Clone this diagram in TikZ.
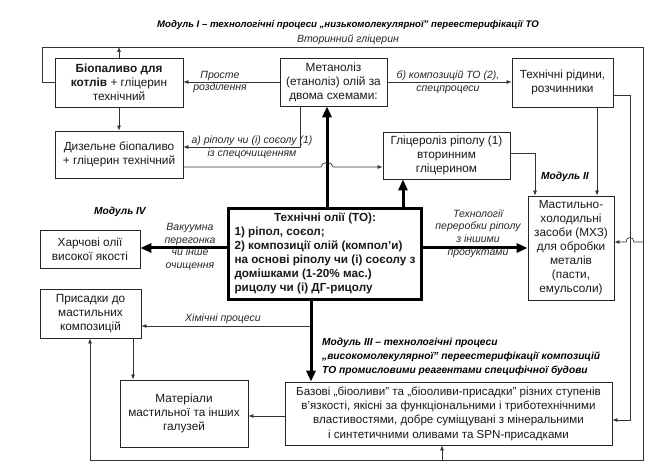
\documentclass[tikz,border=0pt]{standalone}
\usepackage{fontspec}
\setmainfont{Liberation Sans}
\usetikzlibrary{arrows.meta}
\begin{document}
\begin{tikzpicture}[x=1pt,y=-1pt,
  box/.style={draw=black!85, line width=0.8pt, fill=white, align=center, inner sep=1pt, font=\fontsize{11.8}{14}\selectfont, text=black!90},
  lbl/.style={font=\fontsize{10.5}{12.8}\selectfont\itshape, align=center, text=black!85, inner sep=0pt},
  modl/.style={font=\fontsize{10.2}{14}\selectfont\bfseries\itshape, align=left, text=black, inner sep=0pt},
  ln/.style={draw=black!80, line width=0.7pt},
  arr/.style={ln, -{Latex[length=5pt,width=4pt]}},
  thk/.style={draw=black, line width=3pt, -{Triangle[length=11pt,width=9pt]}},
]
\useasboundingbox (0,0) rectangle (665,476);

% boxes
\node[box, minimum width=128pt, minimum height=49pt] (bio) at (119,82.5) {\textbf{Біопаливо для}\\\textbf{котлів} + гліцерин\\технічний};
\node[box, minimum width=107pt, minimum height=48pt] (met) at (333.5,82) {Метаноліз\\(етаноліз) олій за\\двома схемами:};
\node[box, minimum width=101pt, minimum height=49pt] (tech) at (562.5,82.5) {Технічні рідини,\\розчинники};
\node[box, minimum width=128pt, minimum height=47pt] (diz) at (119,154.5) {Дизельне біопаливо\\+ гліцерин технічний};
\node[box, minimum width=127pt, minimum height=47pt] (glic) at (446.5,155.5) {Гліцероліз ріполу (1)\\вторинним\\гліцерином};
\node[box, minimum width=100pt, minimum height=38pt] (harch) at (90,249) {Харчові олії\\високої якості};
\node[box, minimum width=86pt, minimum height=104pt, inner sep=0pt] (mxz) at (571,248) {Мастильно-\\холодильні\\засоби (МХЗ)\\для обробки\\металів\\(пасти,\\емульсоли)};
\node[box, minimum width=101pt, minimum height=49pt] (pris) at (90.5,313.5) {Присадки до\\мастильних\\композицій};
\node[box, minimum width=128pt, minimum height=67pt] (mat) at (184,413.5) {Матеріали\\мастильної та інших\\галузей};
\node[box, minimum width=327pt, minimum height=63pt, inner sep=0pt, font=\fontsize{11.6}{14.3}\selectfont] (baz) at (448.5,413.5) {Базові „біооливи” та „біооливи-присадки” різних ступенів\\в’язкості, якісні за функціональними і триботехнічними\\властивостями, добре суміщувані з мінеральними\\і синтетичними оливами та SPN-присадками};
\node[draw=black, line width=2.4pt, fill=white, minimum width=194pt, minimum height=92pt, inner sep=0pt, text=black!90] (TO) at (325,254)
  {\fontsize{11.7}{14}\selectfont\bfseries\begin{tabular}{@{}l@{}}\multicolumn{1}{@{}c@{}}{Технічні олії (ТО):}\\1) ріпол, соєол;\\2) композиції олій (компол’и)\\на основі ріполу чи (і) соєолу з\\домішками (1-20\% мас.)\\рицолу чи (і) ДГ-рицолу\end{tabular}};
\draw[line width=0.8pt] ([shift={(3pt,-3pt)}]TO.north west) rectangle ([shift={(-3pt,3pt)}]TO.south east);

% coordinates
\coordinate (gtop) at (119,47);
\coordinate (L1) at (42,47);
\coordinate (R1) at (643,47);
\coordinate (R2) at (643,460);
\coordinate (B1) at (90,460);
\coordinate (Rm) at (643,242);
\coordinate (Bb) at (442,460);
\coordinate (ma) at (300,147);
\coordinate (dg) at (0,167);
\coordinate (c327) at (327,0);
\coordinate (c403) at (403,0);
\coordinate (c311) at (311,0);
\coordinate (g1) at (535,153);
\coordinate (t1) at (597,0);
\coordinate (t2) at (630,95);
\coordinate (t3) at (630,420);
\coordinate (h1) at (0,248);
\coordinate (ch) at (311,326);
\coordinate (c133) at (133,0);
\coordinate (bm) at (0,416);

% thin connectors
\draw[arr] (met.west) -- (bio.east |- met.west);
\draw[arr] (bio) -- (diz);
\draw[arr] (bio.north) -- (gtop);
\draw[arr] (bio.west) -- (bio.west -| L1) -- (L1) -- (R1) -- (R2) -- (B1) -- (B1 |- pris.south);
\draw[arr] (Rm) -- (634,242) .. controls (634,236) and (626,236) .. (626,242) -- (mxz.east |- Rm);
\draw[arr] (Bb) -- (Bb |- baz.south);
\draw[arr] (met.south -| ma) -- (ma) -- (diz.east |- ma);
\draw[arr] (diz.east |- dg) -- (321,167) .. controls (321,161) and (333,161) .. (333,167) -- (glic.west |- dg);
\draw[arr] (glic.east |- g1) -- (g1) -- (g1 |- mxz.north);
\draw[arr] (tech.south -| t1) -- (mxz.north -| t1);
\draw[arr] (tech.east |- t2) -- (t2) -- (t3) -- (baz.east |- t3);
\draw[arr] (met.east) -- (tech.west |- met.east);
\draw[arr] (ch) -- (pris.east |- ch);
\draw[arr] (pris.south -| c133) -- (mat.north -| c133);
\draw[arr] (baz.west |- bm) -- (mat.east |- bm);

% thick connectors
\draw[thk] (TO.north -| c327) -- (met.south -| c327);
\draw[thk] (TO.north -| c403) -- (glic.south -| c403);
\draw[thk] (TO.west |- h1) -- (harch.east |- h1);
\draw[thk] (TO.east |- h1) -- (mxz.west |- h1);
\draw[thk] (TO.south -| c311) -- (baz.north -| c311);

% labels
\node[modl, font=\fontsize{9.6}{12}\selectfont\bfseries\itshape] (t0) at (348,25) {Модуль I – технологічні процеси „низькомолекулярної” переестерифікації ТО};
\node[lbl] (t1l) at (348,40) {Вторинний гліцерин};
\node[lbl] (l1) at (220,82) {Просте\\розділення};
\node[lbl] (l2) at (448,82) {б) композицій ТО (2),\\спецпроцеси};
\node[lbl] (l3) at (252,147) {а) ріполу чи (і) соєолу (1)\\із спецочищенням};
\node[lbl] (l4) at (190,247) {Вакуумна\\перегонка\\чи інше\\очищення};
\node[lbl] (l5) at (478,233.5) {Технології\\переробки ріполу\\з іншими\\продуктами};
\node[lbl] (l6) at (223,319) {Хімічні процеси};
\node[modl] (m4) at (120,212) {Модуль IV};
\node[modl] (m2) at (565,177) {Модуль II};
\node[modl, anchor=west] (m3) at (322,357) {Модуль III – технологічні процеси\\„високомолекулярної” переестерифікації композицій\\ТО промисловими реагентами специфічної будови};
\end{tikzpicture}
\end{document}
